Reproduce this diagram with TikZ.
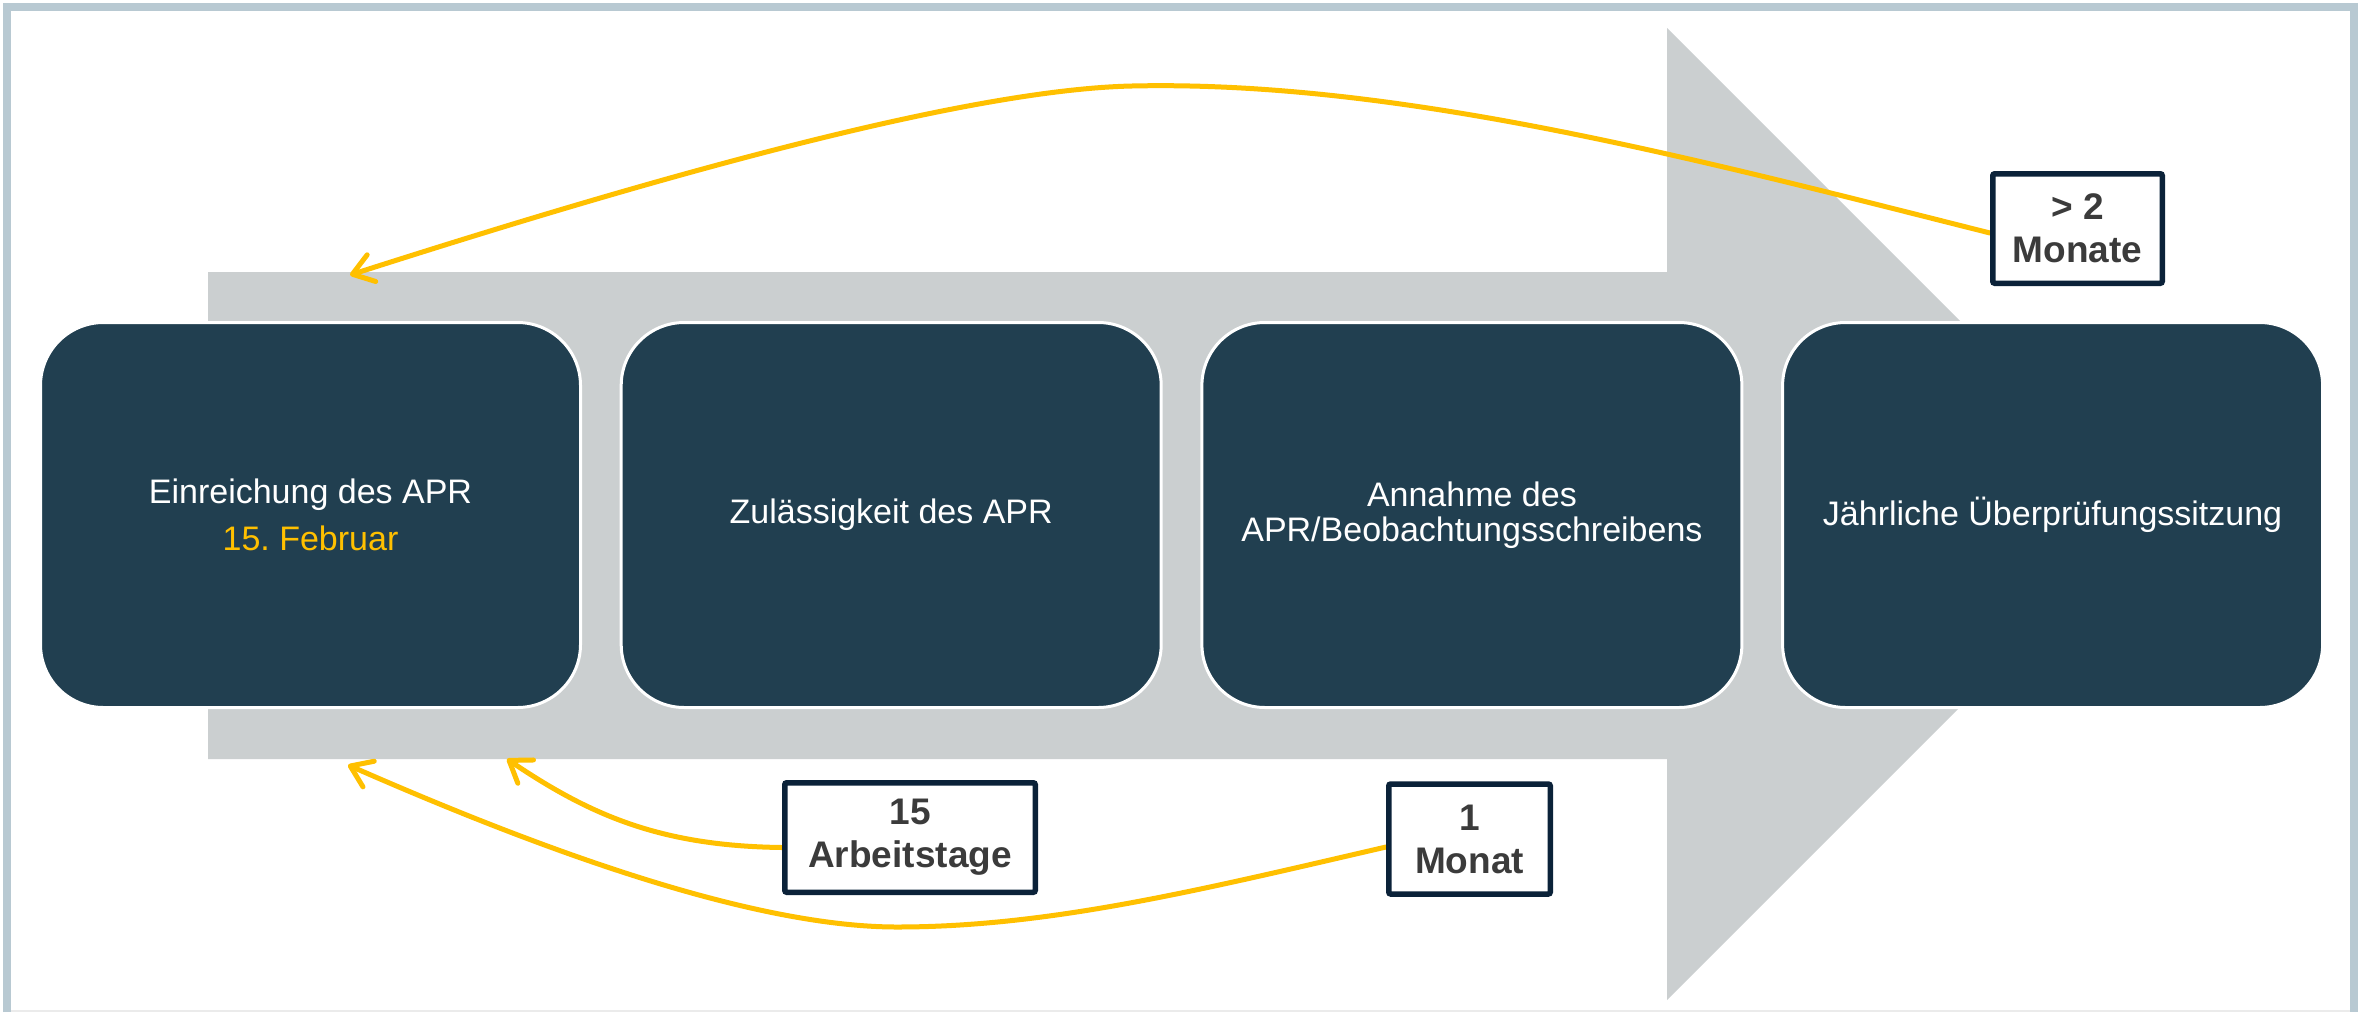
\documentclass[tikz,border=0pt]{standalone}
\usepackage{fontspec}
\setmainfont{Liberation Sans}
\usetikzlibrary{arrows.meta}
\definecolor{boxfill}{HTML}{213F50}
\definecolor{arrowgray}{HTML}{CBCFD0}
\definecolor{framecol}{HTML}{B8C9D2}
\definecolor{gold}{HTML}{FFC000}
\definecolor{navy}{HTML}{0B2239}
\definecolor{labeltext}{HTML}{3B3B3B}
\pgfdeclarelayer{fg}
\pgfsetlayers{main,fg}
\frenchspacing
\begin{document}
\begin{tikzpicture}[x=1pt,y=-1pt,
  stage/.style={draw=white, line width=3pt, fill=boxfill, rounded corners=63pt,
    minimum width=540pt, minimum height=385pt, text=white, align=center,
    font=\fontsize{34}{47}\selectfont, inner sep=0pt},
  tag/.style={draw=navy, line width=5.5pt, fill=white, rounded corners=2pt,
    text=labeltext, align=center, font=\bfseries\fontsize{37}{43}\selectfont,
    inner sep=0pt, minimum height=109.5pt},
  link/.style={draw=gold, line width=5pt, line cap=round,
    -{Straight Barb[length=20pt,width=28pt,round]}},
  framestyle/.style={draw=framecol, line width=8pt}
]
\useasboundingbox (0,0) rectangle (2366,1012);
\fill[white] (0,0) rectangle (2366,1012);
% frame
\draw[framestyle] (7,1012) -- (7,7) -- (2354,7) -- (2354,1012);
\draw[black!8, line width=1.5pt] (11,1011) -- (2350,1011);
% big gray arrow
\fill[arrowgray] (208,272) -- (1667,272) -- (1667,28) -- (2153,514)
  -- (1667,1000) -- (1667,759) -- (208,759) -- cycle;
% stages
\node[stage] (s1) at (310.5,515) {Einreichung des APR\\\textcolor{gold}{15.\ Februar}};
\node[stage] (s2) at (891.2,515) {Zulässigkeit des APR};
\node[stage, font=\fontsize{34}{35}\selectfont] (s3) at (1471.9,515) {Annahme des\\APR/Beobachtungsschreibens};
\node[stage] (s4) at (2052.6,515) {Jährliche Überprüfungssitzung};
% tip coordinates
\coordinate (tipA) at (350,275);
\coordinate (tipB) at (507,759);
\coordinate (tipC) at (348,765);
% tags
\begin{pgfonlayer}{fg}
\node[tag, minimum width=169.5pt] (t1) at (2077.5,228.5) {> 2\\Monate};
\node[tag, minimum width=250.5pt] (t2) at (910,837.5) {15\\Arbeitstage};
\node[tag, minimum width=161.5pt, minimum height=110pt] (t3) at (1469.5,839) {1\\Monat};
\end{pgfonlayer}
% connectors
\draw[link] ([yshift=-4.5pt]t1.west) .. controls (1700,160) and (1400,80) .. (1132,86)
  .. controls (950,90) and (600,195) .. (tipA);
\draw[link] ([yshift=-10pt]t2.west) .. controls (660,846) and (590,815) .. (tipB);
\draw[link] ([yshift=-8pt]t3.west) .. controls (1200,890) and (1050,927) .. (897,927)
  .. controls (747,927) and (528,844) .. (tipC);
\end{tikzpicture}
\end{document}
